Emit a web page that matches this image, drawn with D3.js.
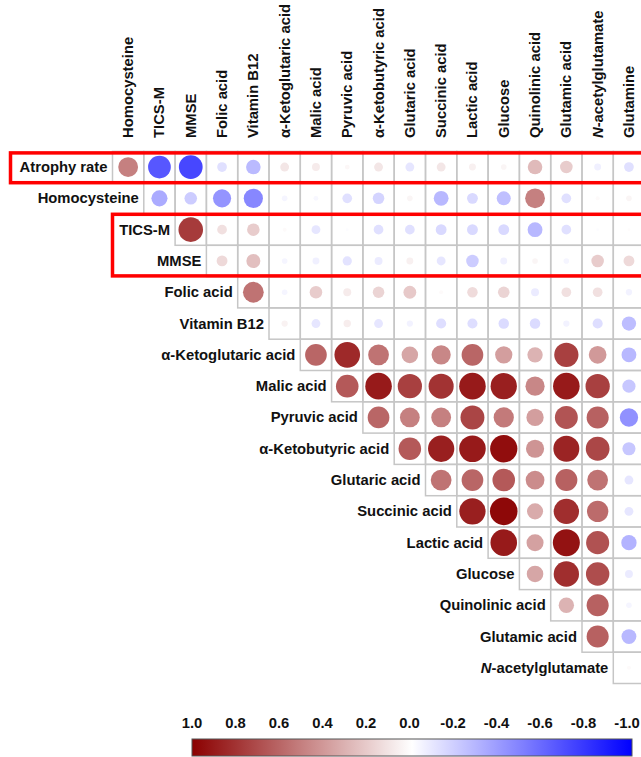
<!DOCTYPE html>
<html>
<head>
<meta charset="utf-8">
<script src="https://cdn.jsdelivr.net/npm/d3@7"></script>
<style>
  body { margin: 0; background: #fff; }
  text { font-family: "Liberation Sans", Arial, sans-serif; font-weight: bold; font-size: 14.8px; fill: #111; }
</style>
</head>
<body>
<svg id="chart" width="641" height="757"></svg>
<script>
// column labels (top) and row labels (left)
var colLabels = ["Homocysteine", "TICS-M", "MMSE", "Folic acid", "Vitamin B12", "α-Ketoglutaric acid",
  "Malic acid", "Pyruvic acid", "α-Ketobutyric acid", "Glutaric acid", "Succinic acid", "Lactic acid",
  "Glucose", "Quinolinic acid", "Glutamic acid", "N-acetylglutamate", "Glutamine"];
var rowLabels = ["Atrophy rate", "Homocysteine", "TICS-M", "MMSE", "Folic acid", "Vitamin B12",
  "α-Ketoglutaric acid", "Malic acid", "Pyruvic acid", "α-Ketobutyric acid", "Glutaric acid",
  "Succinic acid", "Lactic acid", "Glucose", "Quinolinic acid", "Glutamic acid", "N-acetylglutamate"];

// correlations, row i holds columns i..16
var corr = [
  [0.5, -0.66, -0.72, -0.12, -0.27, 0.1, 0.08, 0.03, 0.1, -0.1, 0.1, 0.06, 0.04, 0.27, 0.2, -0.06, -0.12],
  [-0.33, -0.2, -0.42, -0.47, -0.04, -0.03, -0.12, -0.17, 0.04, -0.28, -0.15, -0.25, 0.5, -0.12, 0.02, 0.04],
  [0.77, 0.12, 0.2, 0.02, -0.1, -0.01, -0.12, -0.12, -0.15, -0.15, -0.15, -0.28, -0.12, -0.01, 0.01],
  [0.15, 0.25, -0.04, -0.06, -0.11, -0.08, 0.06, -0.1, -0.2, -0.06, 0.04, -0.04, 0.2, 0.15],
  [0.55, -0.04, 0.2, 0.08, 0.17, 0.21, 0.02, 0.14, 0.17, -0.08, 0.12, 0.12, -0.05],
  [0.05, -0.1, 0.07, -0.1, -0.05, -0.13, -0.13, -0.14, -0.14, -0.05, -0.13, -0.26],
  [0.6, 0.84, 0.55, 0.35, 0.47, 0.6, 0.38, 0.3, 0.75, 0.4, -0.28],
  [0.65, 0.9, 0.75, 0.8, 0.9, 0.88, 0.47, 0.9, 0.75, -0.22],
  [0.6, 0.5, 0.5, 0.73, 0.52, 0.38, 0.67, 0.62, -0.43],
  [0.65, 0.88, 0.9, 0.95, 0.42, 0.86, 0.72, -0.22],
  [0.55, 0.6, 0.65, 0.45, 0.62, 0.55, -0.1],
  [0.88, 0.97, 0.33, 0.82, 0.58, -0.1],
  [0.9, 0.37, 0.93, 0.68, -0.3],
  [0.35, 0.82, 0.7, -0.08],
  [0.3, 0.62, -0.04],
  [0.62, -0.28],
  [0.02]
];

var legendTicks = [1.0, 0.8, 0.6, 0.4, 0.2, 0.0, -0.2, -0.4, -0.6, -0.8, -1.0];

// rows with red highlight boxes [first,last]
var boxes = [[0, 0], [2, 3]];

var svg = d3.select("#chart");
var n = colLabels.length;
var x0 = 112.5, y0 = 151.4, cell = 31.3;

var x = d3.scaleBand().domain(d3.range(n)).range([x0, x0 + n * cell]);
var y = d3.scaleBand().domain(d3.range(rowLabels.length)).range([y0, y0 + rowLabels.length * cell]);
var color = d3.scaleLinear().domain([-1, 0, 1]).range(["#0000ff", "#ffffff", "#8b0000"]);
var rad = d3.scaleSqrt().domain([0, 1]).range([0, 14]);

function label(sel, s) {
  // italic N for N-acetylglutamate
  if (s.indexOf("N-") == 0) {
    sel.append("tspan").style("font-style", "italic").text("N");
    sel.append("tspan").text(s.slice(1));
  } else {
    sel.text(s);
  }
}

// header
colLabels.forEach(function(c, j) {
  var t = svg.append("text")
    .attr("transform", "translate(" + (x(j) + cell / 2 + 5) + ",138) rotate(-90)");
  label(t, c);
});

// cells
var cells = [];
corr.forEach(function(row, i) {
  row.forEach(function(v, k) { cells.push({ r: i, c: i + k, v: v }); });
});

svg.append("g").selectAll("rect").data(cells).join("rect")
  .attr("x", d => x(d.c)).attr("y", d => y(d.r))
  .attr("width", cell).attr("height", cell)
  .attr("fill", "none").attr("stroke", "#c6c6c6").attr("stroke-width", 1.5);

svg.append("g").selectAll("circle").data(cells).join("circle")
  .attr("cx", d => x(d.c) + cell / 2).attr("cy", d => y(d.r) + cell / 2)
  .attr("r", d => rad(Math.abs(d.v)))
  .attr("fill", d => color(d.v));

// row labels
rowLabels.forEach(function(r, i) {
  var t = svg.append("text")
    .attr("x", x(i) - 5).attr("y", y(i) + cell / 2 + 5)
    .attr("text-anchor", "end");
  label(t, r);
});

// red boxes
svg.append("rect").attr("x", 10.5).attr("y", y(boxes[0][0]) + 1.5)
  .attr("width", 700).attr("height", cell - 1.5)
  .attr("fill", "none").attr("stroke", "#ff0000").attr("stroke-width", 3.5);
svg.append("rect").attr("x", x0).attr("y", y(boxes[1][0]) + 0.3)
  .attr("width", 700).attr("height", (boxes[1][1] - boxes[1][0] + 1) * cell - 1)
  .attr("fill", "none").attr("stroke", "#ff0000").attr("stroke-width", 3.5);

// colour bar
var lx = d3.scaleLinear().domain([1, -1]).range([192, 627]);
var grad = svg.append("defs").append("linearGradient").attr("id", "cbar");
d3.range(0, 1.0001, 0.05).forEach(function(t) {
  grad.append("stop").attr("offset", t).attr("stop-color", color(1 - 2 * t));
});
svg.append("rect").attr("x", 192).attr("y", 739).attr("width", 440).attr("height", 17)
  .attr("fill", "url(#cbar)").attr("stroke", "#555").attr("stroke-width", 1);

svg.append("g").selectAll("text").data(legendTicks).join("text")
  .attr("x", d => lx(d)).attr("y", 728)
  .attr("text-anchor", "middle")
  .text(d => d.toFixed(1));
</script>
</body>
</html>
